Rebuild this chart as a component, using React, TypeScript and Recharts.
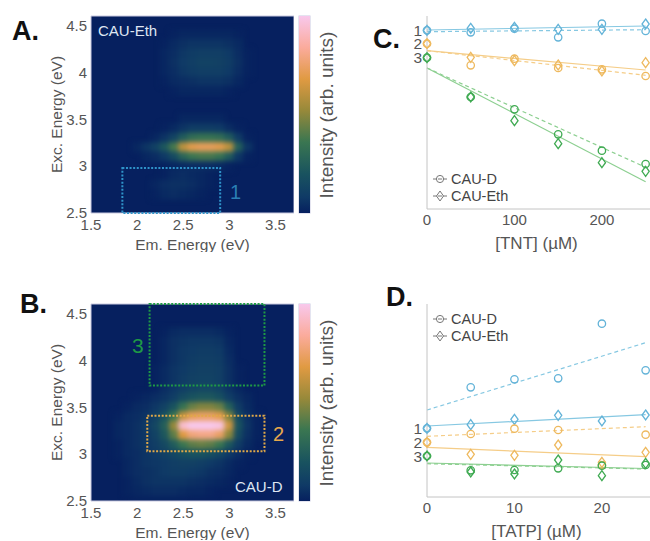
import { ComposedChart, Line, Scatter, ScatterChart, XAxis, YAxis, ReferenceArea, Legend } from 'recharts';

const FONT = '"Liberation Sans", Arial, sans-serif';
const TEXT = '#555555';

// heatmap grid, 0.1 eV steps, intensity 0-100
const emEnergy = [1.8, 1.9, 2.0, 2.1, 2.2, 2.3, 2.4, 2.5, 2.6, 2.7, 2.8, 2.9, 3.0, 3.1, 3.2, 3.3, 3.4];
const excEnergy = [4.5, 4.4, 4.3, 4.2, 4.1, 4.0, 3.9, 3.8, 3.7, 3.6, 3.5, 3.4, 3.3, 3.2, 3.1, 3.0, 2.9, 2.8, 2.7, 2.6, 2.5];

const gridEth = [
  [0, 0, 0, 0, 0, 0, 0, 0, 0, 0, 0, 0, 0, 0, 0, 0, 0],
  [0, 0, 0, 0, 0, 0, 1, 2, 2, 2, 2, 2, 2, 1, 0, 0, 0],
  [0, 0, 0, 0, 0, 1, 3, 5, 6, 6, 6, 6, 5, 3, 0, 0, 0],
  [0, 0, 0, 0, 0, 2, 4, 7, 9, 10, 10, 10, 8, 4, 1, 0, 0],
  [0, 0, 0, 0, 0, 2, 5, 8, 10, 12, 12, 11, 9, 5, 1, 0, 0],
  [0, 0, 0, 0, 0, 2, 4, 7, 9, 10, 10, 10, 8, 4, 1, 0, 0],
  [0, 0, 0, 0, 0, 1, 3, 4, 5, 6, 6, 6, 5, 2, 0, 0, 0],
  [0, 0, 0, 0, 0, 0, 1, 2, 2, 2, 2, 2, 1, 0, 0, 0, 0],
  [0, 0, 0, 0, 0, 0, 0, 0, 0, 0, 0, 0, 0, 0, 0, 0, 0],
  [0, 0, 0, 0, 0, 0, 0, 0, 0, 0, 0, 0, 0, 0, 0, 0, 0],
  [0, 0, 0, 0, 0, 0, 0, 2, 2, 2, 2, 2, 0, 0, 0, 0, 0],
  [0, 0, 0, 0, 0, 1, 3, 6, 9, 9, 9, 8, 4, 1, 0, 0, 0],
  [0, 0, 0, 0, 2, 6, 13, 24, 32, 34, 34, 32, 24, 9, 1, 0, 0],
  [0, 0, 2, 6, 12, 22, 38, 60, 70, 72, 72, 70, 60, 26, 6, 0, 0],
  [0, 0, 0, 2, 4, 8, 16, 28, 36, 38, 38, 34, 24, 7, 1, 0, 0],
  [0, 0, 0, 0, 0, 1, 2, 3, 4, 4, 4, 3, 1, 0, 0, 0, 0],
  [0, 0, 0, 0, 0, 1, 3, 4, 3, 2, 1, 0, 0, 0, 0, 0, 0],
  [0, 0, 0, 0, 2, 4, 5, 5, 4, 2, 1, 0, 0, 0, 0, 0, 0],
  [0, 0, 0, 0, 1, 3, 4, 3, 2, 1, 0, 0, 0, 0, 0, 0, 0],
  [0, 0, 0, 0, 0, 0, 0, 0, 0, 0, 0, 0, 0, 0, 0, 0, 0],
  [0, 0, 0, 0, 0, 0, 0, 0, 0, 0, 0, 0, 0, 0, 0, 0, 0],
];

const gridD = [
  [0, 0, 0, 0, 0, 0, 0, 0, 0, 0, 0, 0, 0, 0, 0, 0, 0],
  [0, 0, 0, 0, 0, 0, 0, 0, 0, 0, 0, 0, 0, 0, 0, 0, 0],
  [0, 0, 0, 0, 0, 1, 3, 4, 4, 4, 4, 3, 1, 0, 0, 0, 0],
  [0, 0, 0, 0, 0, 2, 5, 6, 7, 7, 7, 6, 2, 0, 0, 0, 0],
  [0, 0, 0, 0, 0, 2, 5, 7, 8, 9, 9, 8, 3, 0, 0, 0, 0],
  [0, 0, 0, 0, 0, 2, 5, 7, 9, 10, 10, 9, 4, 0, 0, 0, 0],
  [0, 0, 0, 0, 1, 3, 6, 8, 10, 11, 11, 10, 5, 1, 0, 0, 0],
  [0, 0, 0, 0, 1, 3, 6, 9, 11, 12, 12, 10, 5, 1, 0, 0, 0],
  [0, 0, 0, 0, 1, 4, 7, 10, 13, 14, 14, 12, 6, 2, 0, 0, 0],
  [0, 0, 1, 2, 4, 6, 10, 16, 20, 22, 22, 18, 10, 5, 2, 0, 0],
  [0, 1, 3, 4, 7, 12, 20, 34, 44, 48, 48, 44, 26, 9, 3, 0, 0],
  [1, 3, 4, 6, 11, 20, 36, 62, 72, 74, 74, 70, 48, 15, 5, 1, 0],
  [2, 3, 5, 8, 14, 26, 52, 94, 100, 100, 100, 98, 64, 20, 6, 1, 0],
  [2, 3, 5, 7, 12, 22, 42, 68, 78, 80, 80, 74, 50, 16, 5, 1, 0],
  [1, 3, 5, 7, 10, 15, 24, 36, 42, 44, 42, 36, 22, 9, 3, 0, 0],
  [1, 3, 4, 6, 8, 11, 14, 18, 20, 20, 18, 14, 8, 4, 1, 0, 0],
  [0, 2, 4, 6, 7, 8, 10, 11, 11, 10, 8, 6, 3, 1, 0, 0, 0],
  [0, 2, 4, 5, 6, 8, 9, 9, 8, 7, 5, 4, 2, 0, 0, 0, 0],
  [0, 1, 3, 5, 6, 6, 6, 6, 5, 4, 3, 2, 1, 0, 0, 0, 0],
  [0, 1, 2, 3, 4, 4, 4, 3, 2, 2, 1, 0, 0, 0, 0, 0, 0],
  [0, 0, 1, 1, 1, 1, 1, 1, 0, 0, 0, 0, 0, 0, 0, 0, 0],
];

// TNT panel
const tntConc = [0, 50, 100, 150, 200, 250];
const tntTicks = [0, 100, 200];
const tntBlueD = [1.787, 1.767, 1.803, 1.717, 1.853, 1.78];
const tntBlueEth = [1.787, 1.807, 1.817, 1.797, 1.797, 1.85];
const tntOrangeD = [1.653, 1.437, 1.503, 1.41, 1.397, 1.33];
const tntOrangeEth = [1.653, 1.517, 1.483, 1.44, 1.38, 1.463];
const tntGreenD = [1.513, 1.12, 0.997, 0.747, 0.583, 0.45];
const tntGreenEth = [1.513, 1.12, 0.883, 0.653, 0.463, 0.377];
const tntFits = {
  blueD: [1.773, 1.793],
  blueEth: [1.79, 1.83],
  orangeD: [1.583, 1.337],
  orangeEth: [1.583, 1.39],
  greenD: [1.41, 0.417],
  greenEth: [1.41, 0.273],
};

// TATP panel
const tatpConc = [0, 5, 10, 15, 20, 25];
const tatpTicks = [0, 10, 20];
const tatpBlueD = [0.687, 1.097, 1.177, 1.187, 1.733, 1.267];
const tatpBlueEth = [0.687, 0.723, 0.777, 0.817, 0.76, 0.82];
const tatpOrangeD = [0.547, 0.63, 0.683, 0.67, 0.32, 0.623];
const tatpOrangeEth = [0.547, 0.427, 0.417, 0.52, 0.347, 0.447];
const tatpGreenD = [0.41, 0.267, 0.27, 0.287, 0.313, 0.32];
const tatpGreenEth = [0.41, 0.25, 0.23, 0.37, 0.213, 0.337];
const tatpFits = {
  blueD: [0.87, 1.543],
  blueEth: [0.71, 0.823],
  orangeD: [0.607, 0.703],
  orangeEth: [0.497, 0.403],
  greenD: [0.333, 0.28],
  greenEth: [0.34, 0.285],
};

const gamma: [number, string][] = [
  [0, '#06205f'],
  [8, '#0f3a66'],
  [20, '#19535f'],
  [36, '#3a7651'],
  [52, '#97893a'],
  [68, '#e09a42'],
  [84, '#fbab9c'],
  [100, '#f8c8ec'],
];

function hexToRgb(hex: string) {
  return [1, 3, 5].map((i) => parseInt(hex.slice(i, i + 2), 16));
}

function heatColor(v: number) {
  for (let i = 1; i < gamma.length; i++) {
    if (v <= gamma[i][0]) {
      const t = (v - gamma[i - 1][0]) / (gamma[i][0] - gamma[i - 1][0]);
      const a = hexToRgb(gamma[i - 1][1]);
      const b = hexToRgb(gamma[i][1]);
      return `rgb(${a.map((c, k) => Math.round(c + (b[k] - c) * t)).join(',')})`;
    }
  }
  return gamma[gamma.length - 1][1];
}

const barGradient = `linear-gradient(to top, ${gamma.map(([v, c]) => `${c} ${v}%`).join(', ')})`;

const PLOT_W = 203;
const PLOT_H = 197;
const CELL_W = PLOT_W / 22;
const CELL_H = PLOT_H / 21;

function toCells(grid: number[][]) {
  const cells: { em: number; exc: number; value: number }[] = [];
  grid.forEach((row, r) =>
    row.forEach((value, c) => {
      if (value > 0) cells.push({ em: emEnergy[c], exc: excEnergy[r], value });
    }),
  );
  return cells;
}

function HeatCell(props: any) {
  return (
    <rect
      x={props.cx - CELL_W / 2 - 0.5}
      y={props.cy - CELL_H / 2 - 0.5}
      width={CELL_W + 1}
      height={CELL_H + 1}
      fill={heatColor(props.payload.value)}
    />
  );
}

function Note({ x, y, size, color, weight, children }: any) {
  return (
    <div
      style={{
        position: 'absolute',
        left: x,
        top: y,
        fontFamily: FONT,
        fontSize: size,
        color,
        fontWeight: weight ?? 400,
        lineHeight: 1,
        whiteSpace: 'nowrap',
      }}
    >
      {children}
    </div>
  );
}

function HeatPanel({ top, grid, boxes }: any) {
  const tickStyle = { fill: TEXT, fontSize: 15, fontFamily: FONT };
  return (
    <>
      <div
        style={{
          position: 'absolute',
          left: 91,
          top,
          width: PLOT_W,
          height: PLOT_H,
          overflow: 'hidden',
          background: gamma[0][1],
        }}
      >
        <ScatterChart
          width={PLOT_W}
          height={PLOT_H}
          margin={{ top: 0, right: 0, bottom: 0, left: 0 }}
          style={{ filter: 'blur(2.6px)' }}
        >
          <XAxis hide type="number" dataKey="em" domain={[1.5, 3.7]} />
          <YAxis hide type="number" dataKey="exc" domain={[2.5, 4.6]} />
          <Scatter data={toCells(grid)} shape={HeatCell} isAnimationActive={false} />
        </ScatterChart>
      </div>
      <div
        style={{
          position: 'absolute',
          left: 299,
          top,
          width: 11,
          height: PLOT_H,
          background: barGradient,
          boxShadow: '0 0 0 0.5px #c9c9e0',
        }}
      />
      <div style={{ position: 'absolute', left: 40, top: top - 16 }}>
        <ScatterChart width={254} height={252} margin={{ top: 16, right: 0, bottom: 0, left: 0 }}>
          <XAxis
            type="number"
            dataKey="em"
            domain={[1.5, 3.7]}
            ticks={[1.5, 2, 2.5, 3, 3.5]}
            height={39}
            tickLine={false}
            tickSize={0}
            tickMargin={6}
            axisLine={false}
            tick={tickStyle}
            label={{ value: 'Em. Energy (eV)', position: 'insideBottom', offset: 2, fill: TEXT, fontSize: 15.5, fontFamily: FONT }}
          />
          <YAxis
            type="number"
            dataKey="exc"
            domain={[2.5, 4.6]}
            ticks={[2.5, 3, 3.5, 4, 4.5]}
            width={51}
            tickLine={false}
            tickSize={0}
            tickMargin={4}
            axisLine={false}
            tick={tickStyle}
            label={{ value: 'Exc. Energy (eV)', angle: -90, position: 'insideLeft', offset: 16, fill: TEXT, fontSize: 15.5, fontFamily: FONT, style: { textAnchor: 'middle' } }}
          />
          <Scatter data={toCells(grid)} shape={() => <g />} isAnimationActive={false} />
          <ReferenceArea x1={1.5} x2={3.7} y1={2.5} y2={4.6} fill="none" stroke="#c9c9e0" strokeWidth={1} />
          {boxes.map((b: any) => (
            <ReferenceArea
              key={b.color}
              x1={b.x[0]}
              x2={b.x[1]}
              y1={b.y[0]}
              y2={b.y[1]}
              fill="none"
              stroke={b.color}
              strokeWidth={2}
              strokeDasharray="2 1.6"
            />
          ))}
        </ScatterChart>
      </div>
      <div
        style={{
          position: 'absolute',
          left: 327,
          top: top + PLOT_H / 2,
          transform: 'translate(-50%, -50%) rotate(-90deg)',
          fontFamily: FONT,
          fontSize: 19,
          color: TEXT,
          whiteSpace: 'nowrap',
        }}
      >
        Intensity (arb. units)
      </div>
    </>
  );
}

function Circle(color: string) {
  return (props: any) => {
    if (props.cy == null) return <g key={props.key} />;
    return <circle key={props.key} cx={props.cx} cy={props.cy} r={3.7} fill="none" stroke={color} strokeWidth={1.3} />;
  };
}

function Diamond(color: string) {
  return (props: any) => {
    if (props.cy == null) return <g key={props.key} />;
    const { cx, cy } = props;
    return (
      <path
        key={props.key}
        d={`M${cx} ${cy - 5}L${cx + 3.6} ${cy}L${cx} ${cy + 5}L${cx - 3.6} ${cy}Z`}
        fill="none"
        stroke={color}
        strokeWidth={1.3}
      />
    );
  };
}

function LegendBox({ gap }: any) {
  const rows = ['CAU-D', 'CAU-Eth'];
  return (
    <div>
      {rows.map((name, i) => (
        <div key={name} style={{ display: 'flex', alignItems: 'center', height: gap, fontFamily: FONT, fontSize: 14.5, color: '#444' }}>
          <svg width={17} height={12} style={{ marginRight: 1 }}>
            <line x1={0} x2={14} y1={6} y2={6} stroke="#777" strokeWidth={1} />
            {i === 0 ? (
              <circle cx={7} cy={6} r={3.6} fill="#fff" stroke="#777" />
            ) : (
              <path d="M7 1L10.5 6L7 11L3.5 6Z" fill="#fff" stroke="#777" />
            )}
            <line x1={5} x2={9} y1={6} y2={6} stroke="#777" strokeWidth={1} />
          </svg>
          {name}
        </div>
      ))}
    </div>
  );
}

const SERIES_COLORS = {
  blue: { mark: '#63b3d8', line: '#86c8e2' },
  orange: { mark: '#eeb95e', line: '#f5cd88' },
  green: { mark: '#3faa52', line: '#8ccf90' },
};

function TitrationPanel({ left, top, conc, ticks, xMax, title, legendTop, yMax, height, series, fits, labelAt }: any) {
  const data = conc.map((x: number, i: number) => {
    const row: any = { x };
    Object.keys(series).forEach((k) => (row[k] = series[k][i]));
    if (i === 0) Object.keys(fits).forEach((k) => (row['fit_' + k] = fits[k][0]));
    if (i === conc.length - 1) Object.keys(fits).forEach((k) => (row['fit_' + k] = fits[k][1]));
    return row;
  });
  const fitLine = (key: string, hue: keyof typeof SERIES_COLORS, dashed: boolean) => (
    <Line
      dataKey={'fit_' + key}
      connectNulls
      stroke={SERIES_COLORS[hue].line}
      strokeWidth={1.2}
      strokeDasharray={dashed ? '4 3' : undefined}
      dot={false}
      isAnimationActive={false}
    />
  );
  const marks = (key: string, hue: keyof typeof SERIES_COLORS, kind: 'c' | 'd') => (
    <Line
      dataKey={key}
      stroke="none"
      dot={kind === 'c' ? Circle(SERIES_COLORS[hue].mark) : Diamond(SERIES_COLORS[hue].mark)}
      isAnimationActive={false}
    />
  );
  return (
    <div style={{ position: 'absolute', left, top }}>
      <ComposedChart width={270} height={height} data={data} margin={{ top: 0, right: 0, bottom: 0, left: 0 }}>
        <XAxis
          type="number"
          dataKey="x"
          domain={[0, xMax]}
          ticks={ticks}
          height={height - 193}
          tickLine={false}
          tickSize={0}
          tickMargin={5.5}
          stroke="#c4c4c4"
          tick={{ fill: TEXT, fontSize: 15, fontFamily: FONT }}
          label={{ value: title, position: 'insideBottom', offset: 4, fill: TEXT, fontSize: 17, fontFamily: FONT, dx: -2 }}
        />
        <YAxis
          type="number"
          domain={[0, yMax]}
          ticks={labelAt}
          interval={0}
          width={47}
          tickLine={false}
          tickSize={0}
          tickMargin={5}
          stroke="#c4c4c4"
          tickFormatter={(v: number) => String(labelAt.indexOf(v) + 1)}
          tick={{ fill: TEXT, fontSize: 15.5, fontFamily: FONT }}
        />
        <Legend
          layout="horizontal"
          align="center"
          verticalAlign="middle"
          content={<LegendBox gap={17.5} />}
          wrapperStyle={{ position: 'absolute', left: 53, top: legendTop, width: 100 }}
        />
        {fitLine('blueD', 'blue', true)}
        {fitLine('blueEth', 'blue', false)}
        {fitLine('orangeD', 'orange', true)}
        {fitLine('orangeEth', 'orange', false)}
        {fitLine('greenD', 'green', true)}
        {fitLine('greenEth', 'green', false)}
        {marks('blueD', 'blue', 'c')}
        {marks('blueEth', 'blue', 'd')}
        {marks('orangeD', 'orange', 'c')}
        {marks('orangeEth', 'orange', 'd')}
        {marks('greenD', 'green', 'c')}
        {marks('greenEth', 'green', 'd')}
      </ComposedChart>
    </div>
  );
}

export default function App() {
  return (
    <div style={{ position: 'absolute', left: 0, top: 0, width: 650, height: 541, overflow: 'hidden', background: '#fff' }}>
      <Note x={12} y={18} size={27} color="#111" weight={700}>A.</Note>
      <Note x={20} y={291} size={27} color="#111" weight={700}>B.</Note>
      <Note x={373} y={26} size={27} color="#111" weight={700}>C.</Note>
      <Note x={386} y={284} size={27} color="#111" weight={700}>D.</Note>

      <HeatPanel
        top={16}
        grid={gridEth}
        boxes={[{ x: [1.84, 2.9], y: [2.5, 2.98], color: '#2f93c9' }]}
      />
      <HeatPanel
        top={304}
        grid={gridD}
        boxes={[
          { x: [2.11, 3.38], y: [3.03, 3.41], color: '#e0a848' },
          { x: [2.135, 3.38], y: [3.73, 4.6], color: '#1f9a45' },
        ]}
      />
      <Note x={98} y={23} size={15} color="#dfe6f2">CAU-Eth</Note>
      <Note x={230} y={182} size={20} color="#2a7fb5">1</Note>
      <Note x={235} y={479} size={15} color="#dfe6f2">CAU-D</Note>
      <Note x={273} y={424} size={20} color="#e6a84c">2</Note>
      <Note x={132} y={335} size={21} color="#1f9a45">3</Note>

      <TitrationPanel
        left={380}
        top={16}
        conc={tntConc}
        ticks={tntTicks}
        xMax={255}
        title="[TNT] (µM)"
        legendTop={154}
        yMax={1.93}
        height={237}
        labelAt={[tntBlueD[0], tntOrangeD[0], tntGreenD[0]]}
        series={{
          blueD: tntBlueD,
          blueEth: tntBlueEth,
          orangeD: tntOrangeD,
          orangeEth: tntOrangeEth,
          greenD: tntGreenD,
          greenEth: tntGreenEth,
        }}
        fits={tntFits}
      />
      <TitrationPanel
        left={380}
        top={304}
        conc={tatpConc}
        ticks={tatpTicks}
        xMax={25.5}
        title="[TATP] (µM)"
        legendTop={6}
        yMax={1.93}
        height={237}
        labelAt={[tatpBlueD[0], tatpOrangeD[0], tatpGreenD[0]]}
        series={{
          blueD: tatpBlueD,
          blueEth: tatpBlueEth,
          orangeD: tatpOrangeD,
          orangeEth: tatpOrangeEth,
          greenD: tatpGreenD,
          greenEth: tatpGreenEth,
        }}
        fits={tatpFits}
      />
    </div>
  );
}
